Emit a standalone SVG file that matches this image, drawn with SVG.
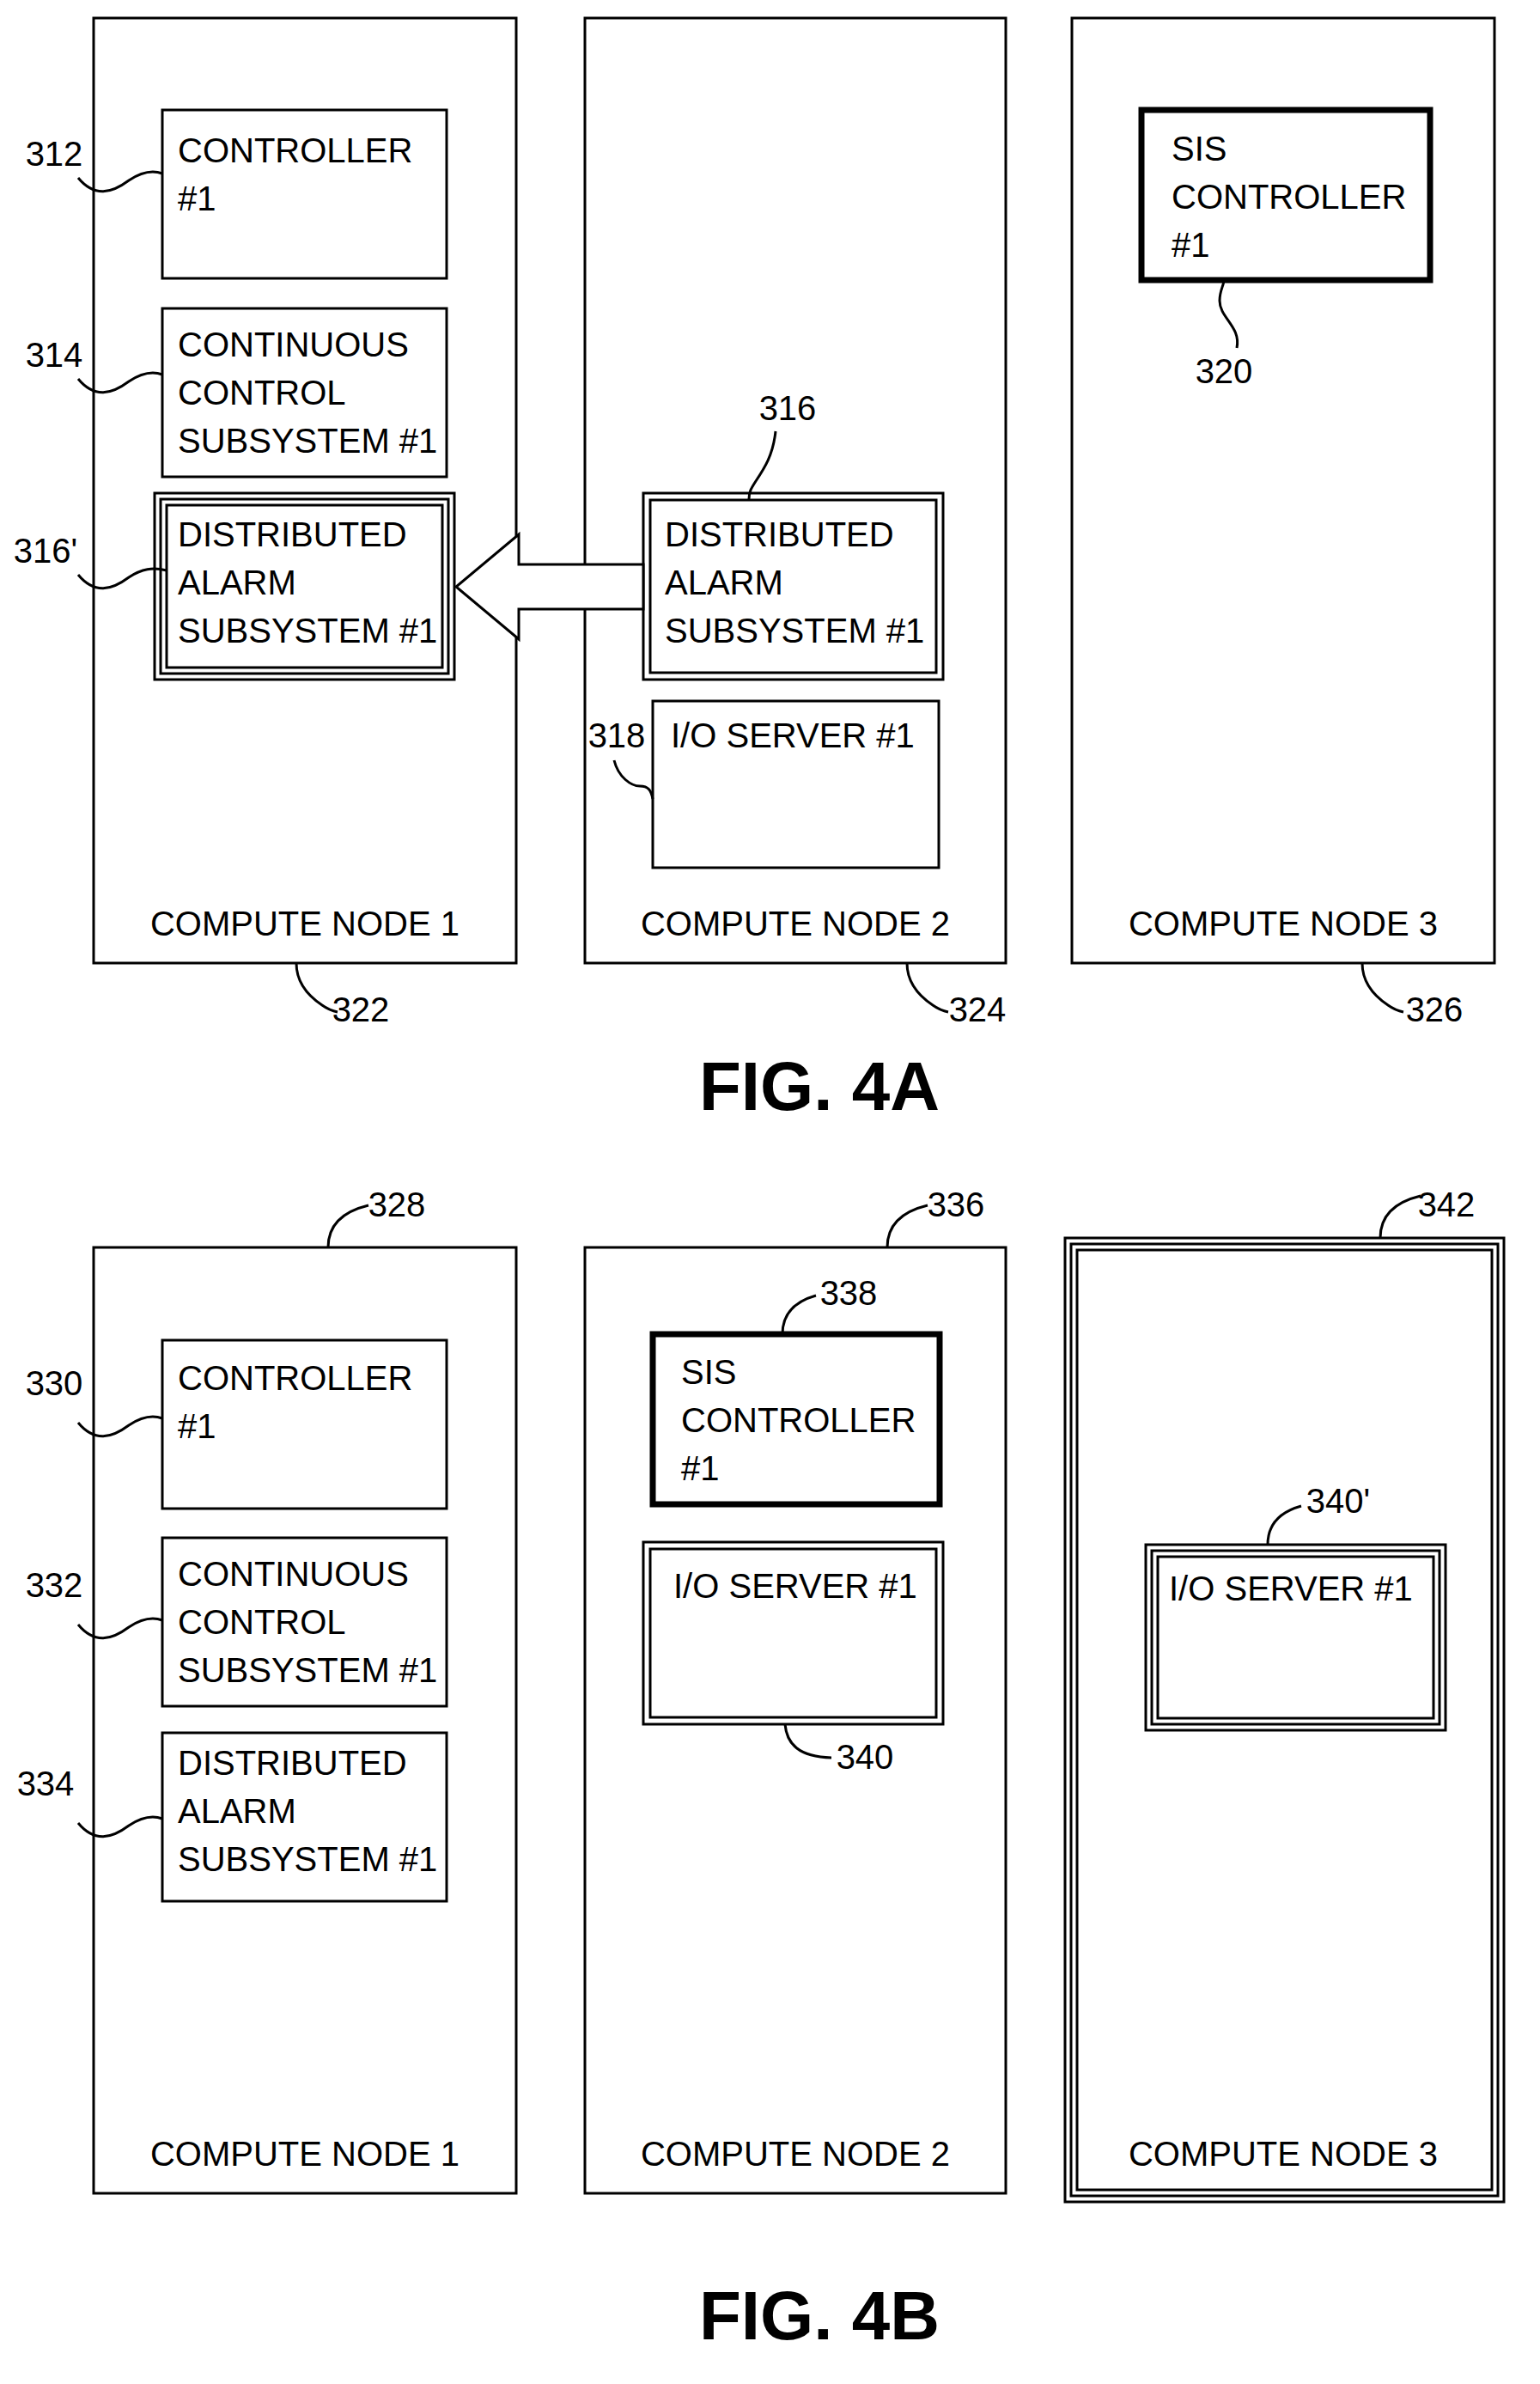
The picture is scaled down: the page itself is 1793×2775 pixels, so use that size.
<svg xmlns="http://www.w3.org/2000/svg" width="1793" height="2775" viewBox="0 0 1793 2775">
<style>
rect{fill:none;stroke:#000;stroke-width:3}
rect.bg{fill:#fff;stroke:none}
.thick{stroke-width:7}
path{fill:none;stroke:#000;stroke-width:3}
text{font-family:"Liberation Sans",Arial,sans-serif;font-size:40px;fill:#000}
.c{text-anchor:middle}
.fig{font-size:80px;font-weight:bold;text-anchor:middle}
</style>
<rect class="bg" width="1793" height="2775"/>
<g id="fig4a">
<g id="node322"><rect x="109" y="21" width="492" height="1100"/><text class="c" x="355" y="1089">COMPUTE NODE 1</text></g>
<g id="node324"><rect x="681" y="21" width="490" height="1100"/><text class="c" x="926" y="1089">COMPUTE NODE 2</text></g>
<g id="node326"><rect x="1248" y="21" width="492" height="1100"/><text class="c" x="1494" y="1089">COMPUTE NODE 3</text></g>
<g id="n312"><rect x="189" y="128" width="331" height="196"/><text x="207" y="189">CONTROLLER</text><text x="207" y="245">#1</text></g>
<g id="n314"><rect x="189" y="359" width="331" height="196"/><text x="207" y="415">CONTINUOUS</text><text x="207" y="471">CONTROL</text><text x="207" y="527">SUBSYSTEM #1</text></g>
<g id="n316p"><rect x="180" y="574" width="349" height="217"/><rect x="187" y="581" width="335" height="203"/><rect x="194" y="588" width="321" height="189"/><text x="207" y="636">DISTRIBUTED</text><text x="207" y="692">ALARM</text><text x="207" y="748">SUBSYSTEM #1</text></g>
<g id="n316"><rect x="749" y="574" width="349" height="217"/><rect x="757" y="582" width="333" height="201"/><text x="774" y="636">DISTRIBUTED</text><text x="774" y="692">ALARM</text><text x="774" y="748">SUBSYSTEM #1</text></g>
<g id="n318"><rect x="760" y="816" width="333" height="194"/><text x="781" y="870">I/O SERVER #1</text></g>
<g id="n320"><rect class="thick" x="1329" y="128" width="336" height="198"/><text x="1364" y="187">SIS</text><text x="1364" y="243">CONTROLLER</text><text x="1364" y="299">#1</text></g>
<text class="fig" x="954" y="1292">FIG. 4A</text>
</g>
<g id="fig4b">
<g id="node328"><rect x="109" y="1452" width="492" height="1101"/><text class="c" x="355" y="2521">COMPUTE NODE 1</text></g>
<g id="node336"><rect x="681" y="1452" width="490" height="1101"/><text class="c" x="926" y="2521">COMPUTE NODE 2</text></g>
<g id="node342"><rect x="1240" y="1441" width="511" height="1122"/><rect x="1247" y="1448" width="497" height="1108"/><rect x="1254" y="1455" width="483" height="1094"/><text class="c" x="1494" y="2521">COMPUTE NODE 3</text></g>
<g id="n330"><rect x="189" y="1560" width="331" height="196"/><text x="207" y="1618">CONTROLLER</text><text x="207" y="1674">#1</text></g>
<g id="n332"><rect x="189" y="1790" width="331" height="196"/><text x="207" y="1846">CONTINUOUS</text><text x="207" y="1902">CONTROL</text><text x="207" y="1958">SUBSYSTEM #1</text></g>
<g id="n334"><rect x="189" y="2017" width="331" height="196"/><text x="207" y="2066">DISTRIBUTED</text><text x="207" y="2122">ALARM</text><text x="207" y="2178">SUBSYSTEM #1</text></g>
<g id="n338"><rect class="thick" x="760" y="1553" width="334" height="198"/><text x="793" y="1611">SIS</text><text x="793" y="1667">CONTROLLER</text><text x="793" y="1723">#1</text></g>
<g id="n340"><rect x="749" y="1795" width="349" height="212"/><rect x="757" y="1803" width="333" height="196"/><text x="784" y="1860">I/O SERVER #1</text></g>
<g id="n340p"><rect x="1334" y="1798" width="349" height="216"/><rect x="1341" y="1805" width="335" height="202"/><rect x="1348" y="1812" width="321" height="188"/><text x="1361" y="1863">I/O SERVER #1</text></g>
<text class="fig" x="954" y="2723">FIG. 4B</text>
</g>
<g id="connectors">
<polygon points="749,657 604,657 604,622 531,683 604,744 604,709 749,709" fill="#fff" stroke="#000" stroke-width="3"/>
<path d="M91 207 C110 230 130 225 150 210 C165 200 178 198 189 202"/>
<path d="M91 441 C110 464 130 459 150 444 C165 434 178 432 189 436"/>
<path d="M91 669 C110 692 130 687 150 672 C165 662 178 660 194 664"/>
<path d="M903 502 C900 530 890 545 880 560 C875 568 872 572 872 581"/>
<path d="M1440 405 C1445 380 1420 370 1420 350 C1420 338 1425 332 1425 326"/>
<path d="M345 1121 C345 1145 360 1160 375 1170 C382 1175 388 1177 393 1178"/>
<path d="M1056 1121 C1056 1145 1071 1160 1086 1170 C1093 1175 1099 1177 1104 1178"/>
<path d="M1586 1121 C1586 1145 1601 1160 1616 1170 C1623 1175 1629 1177 1634 1178"/>
<path d="M382 1452 C382 1425 400 1410 429 1403"/>
<path d="M1033 1452 C1033 1425 1051 1410 1080 1403"/>
<path d="M1607 1441 C1607 1414 1625 1399 1654 1392"/>
<path d="M911 1553 C911 1530 925 1515 950 1508"/>
<path d="M1476 1798 C1476 1775 1490 1760 1515 1753"/>
<path d="M914 2007 C916 2030 930 2045 968 2046"/>
<path d="M91 1656 C110 1679 130 1674 150 1659 C165 1649 178 1647 189 1651"/>
<path d="M91 1891 C110 1914 130 1909 150 1894 C165 1884 178 1882 189 1886"/>
<path d="M91 2122 C110 2145 130 2140 150 2125 C165 2115 178 2113 189 2117"/>
<path d="M715 885 C720 905 735 915 745 915 C755 915 758 920 760 930"/>
</g>
<g id="labels">
<text class="c" x="63" y="193">312</text>
<text class="c" x="63" y="427">314</text>
<text class="c" x="53" y="655">316'</text>
<text class="c" x="917" y="489">316</text>
<text class="c" x="718" y="870">318</text>
<text class="c" x="1425" y="446">320</text>
<text class="c" x="420" y="1189">322</text>
<text class="c" x="1138" y="1189">324</text>
<text class="c" x="1670" y="1189">326</text>
<text class="c" x="462" y="1416">328</text>
<text class="c" x="1113" y="1416">336</text>
<text class="c" x="1684" y="1416">342</text>
<text class="c" x="988" y="1519">338</text>
<text class="c" x="1558" y="1761">340'</text>
<text class="c" x="1007" y="2059">340</text>
<text class="c" x="63" y="1624">330</text>
<text class="c" x="63" y="1859">332</text>
<text class="c" x="53" y="2090">334</text>
</g>
</svg>
